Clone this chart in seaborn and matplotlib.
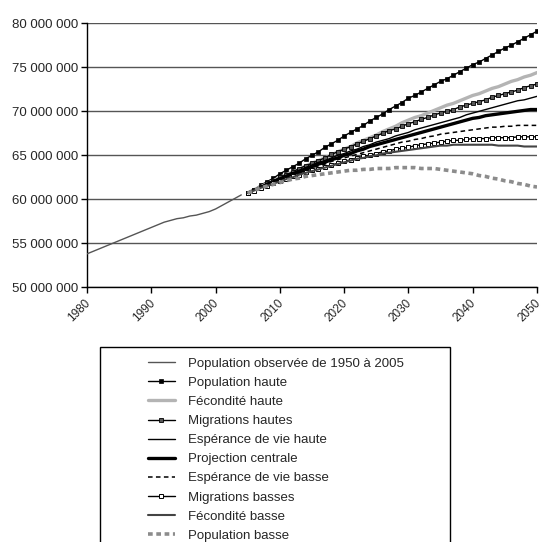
import matplotlib
matplotlib.use("Agg")
import matplotlib.pyplot as plt
import matplotlib.transforms as mtransforms
from matplotlib.ticker import FuncFormatter, MultipleLocator
from matplotlib.patches import Rectangle
import seaborn as sns

# population en millions
OBS_YEARS = list(range(1980, 2005))
OBSERVEE = [53.8, 54.1, 54.4, 54.7, 55.0, 55.3, 55.6, 55.9, 56.2, 56.5,
            56.8, 57.1, 57.4, 57.6, 57.8, 57.9, 58.1, 58.2, 58.4, 58.6,
            58.9, 59.3, 59.7, 60.1, 60.5]

PROJ_YEARS = list(range(2005, 2051))
POP_HAUTE = [60.7, 61.1, 61.6, 62.0, 62.4, 62.9, 63.3, 63.7, 64.1, 64.6,
             65.0, 65.4, 65.9, 66.3, 66.7, 67.2, 67.6, 68.0, 68.4, 68.9,
             69.3, 69.7, 70.2, 70.6, 71.0, 71.5, 71.8, 72.2, 72.6, 73.0,
             73.4, 73.7, 74.1, 74.5, 74.9, 75.3, 75.6, 76.0, 76.4, 76.8,
             77.2, 77.5, 77.9, 78.3, 78.7, 79.1]
FEC_HAUTE = [60.7, 61.1, 61.4, 61.8, 62.1, 62.5, 62.8, 63.1, 63.4, 63.8,
             64.1, 64.4, 64.7, 65.0, 65.4, 65.7, 66.0, 66.4, 66.7, 67.0,
             67.3, 67.7, 68.0, 68.3, 68.7, 69.0, 69.3, 69.5, 69.8, 70.1,
             70.4, 70.7, 70.9, 71.2, 71.5, 71.8, 72.0, 72.3, 72.6, 72.8,
             73.1, 73.4, 73.6, 73.9, 74.1, 74.4]
MIG_HAUTES = [60.7, 61.1, 61.4, 61.8, 62.1, 62.5, 62.8, 63.1, 63.5, 63.8,
              64.1, 64.4, 64.7, 65.1, 65.4, 65.7, 66.0, 66.3, 66.6, 66.9,
              67.2, 67.5, 67.8, 68.0, 68.3, 68.6, 68.8, 69.1, 69.3, 69.6,
              69.8, 70.0, 70.2, 70.5, 70.7, 70.9, 71.1, 71.3, 71.6, 71.8,
              72.0, 72.2, 72.4, 72.7, 72.9, 73.1]
ESP_HAUTE = [60.7, 61.0, 61.4, 61.7, 62.0, 62.4, 62.7, 63.0, 63.3, 63.6,
             63.9, 64.2, 64.4, 64.7, 65.0, 65.2, 65.5, 65.7, 66.0, 66.2,
             66.5, 66.7, 66.9, 67.2, 67.4, 67.6, 67.9, 68.1, 68.3, 68.5,
             68.7, 68.9, 69.1, 69.3, 69.6, 69.8, 70.0, 70.2, 70.4, 70.6,
             70.8, 71.0, 71.2, 71.3, 71.5, 71.7]
CENTRALE = [60.7, 61.0, 61.3, 61.7, 62.0, 62.3, 62.6, 62.9, 63.1, 63.4,
            63.7, 64.0, 64.2, 64.5, 64.7, 65.0, 65.2, 65.5, 65.7, 66.0,
            66.2, 66.4, 66.6, 66.8, 67.0, 67.2, 67.4, 67.6, 67.8, 68.0,
            68.2, 68.4, 68.6, 68.8, 69.0, 69.2, 69.3, 69.5, 69.6, 69.7,
            69.8, 69.9, 70.0, 70.1, 70.2, 70.2]
ESP_BASSE = [60.7, 61.0, 61.3, 61.6, 61.9, 62.2, 62.5, 62.8, 63.0, 63.3,
             63.6, 63.8, 64.0, 64.3, 64.5, 64.7, 64.9, 65.1, 65.3, 65.5,
             65.7, 65.9, 66.1, 66.3, 66.5, 66.6, 66.8, 66.9, 67.1, 67.2,
             67.4, 67.5, 67.6, 67.7, 67.8, 67.9, 68.0, 68.1, 68.2, 68.2,
             68.3, 68.3, 68.4, 68.4, 68.4, 68.4]
MIG_BASSES = [60.7, 61.0, 61.3, 61.5, 61.8, 62.1, 62.3, 62.6, 62.8, 63.1,
              63.3, 63.5, 63.7, 63.9, 64.1, 64.3, 64.5, 64.7, 64.9, 65.0,
              65.2, 65.4, 65.5, 65.7, 65.8, 65.9, 66.1, 66.2, 66.3, 66.4,
              66.5, 66.6, 66.7, 66.7, 66.8, 66.9, 66.9, 66.9, 67.0, 67.0,
              67.0, 67.0, 67.1, 67.1, 67.1, 67.1]
FEC_BASSE = [60.7, 61.0, 61.3, 61.5, 61.8, 62.0, 62.3, 62.5, 62.8, 63.0,
             63.2, 63.4, 63.6, 63.8, 64.0, 64.2, 64.4, 64.6, 64.7, 64.9,
             65.0, 65.2, 65.3, 65.4, 65.5, 65.6, 65.7, 65.8, 65.9, 66.0,
             66.1, 66.1, 66.2, 66.2, 66.2, 66.2, 66.2, 66.2, 66.2, 66.1,
             66.1, 66.1, 66.1, 66.0, 66.0, 66.0]
POP_BASSE = [60.7, 61.0, 61.3, 61.5, 61.7, 61.9, 62.1, 62.3, 62.4, 62.6,
             62.7, 62.8, 62.9, 63.0, 63.1, 63.2, 63.3, 63.3, 63.4, 63.4,
             63.5, 63.5, 63.5, 63.6, 63.6, 63.6, 63.6, 63.5, 63.5, 63.5,
             63.4, 63.3, 63.2, 63.1, 63.0, 62.9, 62.7, 62.6, 62.4, 62.3,
             62.1, 62.0, 61.8, 61.7, 61.5, 61.4]

LABELS = ["Population observée de 1950 à 2005", "Population haute",
          "Fécondité haute", "Migrations hautes", "Espérance de vie haute",
          "Projection centrale", "Espérance de vie basse", "Migrations basses",
          "Fécondité basse", "Population basse"]


def main():
    sns.set_style("white")
    plt.rcParams['font.family'] = ['Liberation Sans', 'DejaVu Sans']

    fig = plt.figure(figsize=(5.42, 5.42), dpi=100)
    ax = fig.add_axes([87 / 542, 1 - 287.3 / 542, 450 / 542, 264 / 542])

    series = [OBSERVEE, POP_HAUTE, FEC_HAUTE, MIG_HAUTES, ESP_HAUTE,
              CENTRALE, ESP_BASSE, MIG_BASSES, FEC_BASSE, POP_BASSE]
    styles = [
        dict(color="#555555", lw=1.0),
        dict(color="black", lw=1.0, marker="s", markersize=3.3,
             markerfacecolor="black", markeredgecolor="black", markeredgewidth=0.5),
        dict(color="#b4b4b4", lw=2.4),
        dict(color="black", lw=1.0, marker="s", markersize=3.3,
             markerfacecolor="#585858", markeredgecolor="black", markeredgewidth=0.6),
        dict(color="black", lw=1.0),
        dict(color="black", lw=2.4),
        dict(color="black", lw=1.1, linestyle=(0, (3, 2.2))),
        dict(color="black", lw=1.0, marker="s", markersize=3.3,
             markerfacecolor="white", markeredgecolor="black", markeredgewidth=0.7),
        dict(color="#444444", lw=1.5),
        dict(color="#8c8c8c", lw=2.6, linestyle=(0, (1.3, 1.0))),
    ]
    for i, (vals, lab, st) in enumerate(zip(series, LABELS, styles)):
        years = OBS_YEARS if i == 0 else PROJ_YEARS
        sns.lineplot(x=years, y=[v * 1e6 for v in vals], ax=ax, label=lab,
                     legend=False, zorder=3, **st)

    ax.set_xlim(1980, 2050)
    ax.set_ylim(50e6, 80e6)
    ax.xaxis.set_major_locator(MultipleLocator(10))
    ax.yaxis.set_major_locator(MultipleLocator(5e6))
    ax.yaxis.set_major_formatter(FuncFormatter(lambda v, p: f"{int(v):,}".replace(",", " ")))
    ax.grid(axis="y", color="#555555", lw=1.0, zorder=0)
    ax.set_axisbelow(True)
    for s in ["top", "right"]:
        ax.spines[s].set_visible(False)
    for s in ["left", "bottom"]:
        ax.spines[s].set_color("black")
        ax.spines[s].set_linewidth(1.0)
    ax.tick_params(axis="both", direction="out", length=4, width=1, color="black",
                   left=True, bottom=True)
    ax.tick_params(axis="y", labelsize=9.5, pad=2)
    ax.tick_params(axis="x", labelsize=8.5, pad=3)
    shift = mtransforms.ScaledTranslation(-2.5 / 100, 0, fig.dpi_scale_trans)
    for t in ax.get_xticklabels():
        t.set_rotation(45)
        t.set_ha("right")
        t.set_va("top")
        t.set_rotation_mode("anchor")
        t.set_transform(t.get_transform() + shift)
    ax.set_xlabel("")
    ax.set_ylabel("")

    # cadre de la légende
    fig.add_artist(Rectangle((100 / 542, -0.02), 350 / 542, 1 - 347 / 542 + 0.02,
                             transform=fig.transFigure, fill=False,
                             edgecolor="black", lw=1.0))
    handles, labels = ax.get_legend_handles_labels()
    fig.legend(handles, labels, loc="upper left", bbox_to_anchor=(141 / 542, 1 - 351 / 542),
               frameon=False, fontsize=9.5, borderpad=0, handlelength=2.1,
               handletextpad=1.0, labelspacing=0.52, numpoints=1)

    fig.savefig("out.png", dpi=100)


if __name__ == '__main__':
    main()
